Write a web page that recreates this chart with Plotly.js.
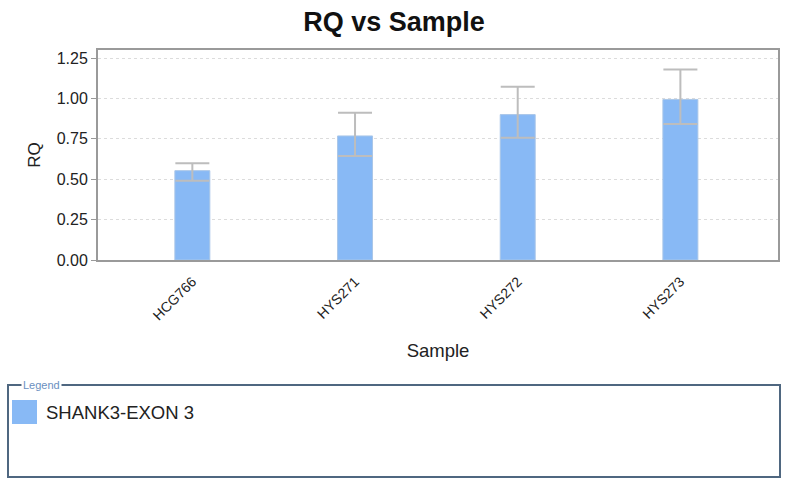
<!DOCTYPE html>
<html>
<head>
<meta charset="utf-8">
<script src="https://cdn.plot.ly/plotly-3.0.1.min.js"></script>
<style>html,body{margin:0;padding:0;background:#fff;}#chart{width:788px;height:483px;}</style>
</head>
<body>
<div id="chart"></div>
<script>
const samples = ["HCG766", "HYS271", "HYS272", "HYS273"];
const rq = [0.553, 0.768, 0.900, 0.994];
const errPlus = [0.046, 0.144, 0.172, 0.186];
const errMinus = [0.063, 0.124, 0.143, 0.152];
const seriesName = "SHANK3-EXON 3";
const yTicks = [0, 0.25, 0.5, 0.75, 1.0, 1.25];
const yTickText = ["0.00", "0.25", "0.50", "0.75", "1.00", "1.25"];

const barColor = "#88b9f5";

const trace = {
  type: "bar",
  x: samples,
  y: rq,
  name: seriesName,
  width: 0.215,
  marker: {color: barColor, line: {color: "#a9c6e8", width: 1}},
  error_y: {
    type: "data", symmetric: false,
    array: errPlus, arrayminus: errMinus,
    color: "#bdbdbd", thickness: 2, width: 17
  },
  showlegend: false,
  hoverinfo: "x+y"
};

// paper coordinate helpers (plot area: x 98..778, y 50..260 px)
const px = X => (X - 98) / 680;
const py = Y => (260 - Y) / 210;

const layout = {
  width: 788, height: 483,
  margin: {l: 98, r: 10, t: 50, b: 223},
  paper_bgcolor: "#ffffff",
  plot_bgcolor: "#ffffff",
  font: {family: "Liberation Sans, Arial, sans-serif", color: "#222"},
  title: {text: "<b>RQ vs Sample</b>", font: {size: 27, color: "#111"}, x: 0.5, xanchor: "center", y: 0.955, yanchor: "middle"},
  xaxis: {
    type: "category",
    range: [-0.58, 3.6],
    tickangle: -45,
    tickfont: {size: 14, color: "#222"},
    showgrid: false,
    showline: true, linecolor: "#9a9a9a", linewidth: 2, mirror: true,
    ticks: "outside", ticklen: 6, tickcolor: "rgba(0,0,0,0)",
    title: {text: "Sample", font: {size: 18.5, color: "#222"}, standoff: 22},
    automargin: false,
    fixedrange: true
  },
  yaxis: {
    range: [0, 1.30],
    tickvals: yTicks, ticktext: yTickText,
    tickfont: {size: 16, color: "#222"},
    showgrid: true, gridcolor: "#dcdcdc", griddash: "dot", gridwidth: 1,
    showline: true, linecolor: "#9a9a9a", linewidth: 2, mirror: true,
    ticks: "outside", ticklen: 5, tickcolor: "#9a9a9a",
    zeroline: false,
    title: {text: "RQ", font: {size: 17, color: "#222"}, standoff: 12},
    automargin: false,
    fixedrange: true
  },
  shapes: [
    {type: "rect", xref: "paper", yref: "paper", x0: px(8), x1: px(780), y0: py(385), y1: py(477),
     line: {color: "#4f6780", width: 2}, fillcolor: "rgba(0,0,0,0)"},
    {type: "rect", xref: "paper", yref: "paper", x0: px(12), x1: px(37), y0: py(400), y1: py(424),
     line: {width: 0}, fillcolor: barColor}
  ],
  annotations: [
    {xref: "paper", yref: "paper", x: px(21), y: py(385), xanchor: "left", yanchor: "middle",
     text: "Legend", showarrow: false, bgcolor: "#ffffff", borderpad: 1,
     font: {size: 11, color: "#6a8fc0"}},
    {xref: "paper", yref: "paper", x: px(44), y: py(412), xanchor: "left", yanchor: "middle",
     text: seriesName, showarrow: false, font: {size: 18.5, color: "#222"}}
  ],
  bargap: 0.8
};

Plotly.newPlot("chart", [trace], layout, {displayModeBar: false, staticPlot: true});
</script>
</body>
</html>
